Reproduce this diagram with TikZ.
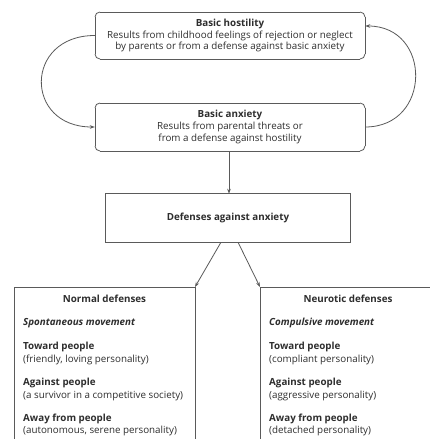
\documentclass[tikz,border=0pt]{standalone}
\usepackage{fontspec}
\setmainfont{Open Sans}
\usetikzlibrary{calc,arrows.meta}
\definecolor{txt}{HTML}{2E2E2E}
\definecolor{ln}{HTML}{5A5A5A}
\tikzset{
  box/.style={inner sep=0pt, text=txt, font=\fontsize{9.8}{11.8}\selectfont, align=center},
  edge/.style={draw=ln, line width=0.8pt},
  lbl/.style={text=txt, font=\fontsize{9.8}{11.8}\selectfont, align=center, inner sep=0pt},
  item/.style={text=txt, font=\fontsize{9.8}{12.6}\selectfont, align=left, inner sep=0pt, anchor=west},
  arr/.style={draw=ln, line width=0.8pt, -{Stealth[length=5pt,width=3.5pt]}}
}
\begin{document}
\begin{tikzpicture}[x=1pt,y=-1pt]
\fill[white] (0,0) rectangle (430,439);
\useasboundingbox (0,0) rectangle (430,439);
% boxes with their texts
\node[box, minimum width=270pt, minimum height=47pt] (host) at (230,35.5) {\textbf{Basic hostility}\\Results from childhood feelings of rejection or neglect\\by parents or from a defense against basic anxiety};
\node[box, minimum width=270pt, minimum height=48pt] (anx) at (230,127) {\textbf{Basic anxiety}\\Results from parental threats or\\from a defense against hostility};
\node[box, minimum width=244pt, minimum height=48pt] (def) at (228,218) {\textbf{Defenses against anxiety}};
% rounded outline of Basic hostility
\draw[edge] (100,12) -- (360,12);
\draw[edge] (365,17) -- (365,54);
\draw[edge] (360,59) -- (100,59);
\draw[edge] (95,54) -- (95,17);
\draw[edge] (95,17) .. controls (95,14.2) and (97.2,12) .. (100,12);
\draw[edge] (360,12) .. controls (362.8,12) and (365,14.2) .. (365,17);
\draw[edge] (365,54) .. controls (365,56.8) and (362.8,59) .. (360,59);
\draw[edge] (100,59) .. controls (97.2,59) and (95,56.8) .. (95,54);
% rounded outline of Basic anxiety
\draw[edge] (100,103) -- (360,103);
\draw[edge] (365,108) -- (365,146);
\draw[edge] (360,151) -- (100,151);
\draw[edge] (95,146) -- (95,108);
\draw[edge] (95,108) .. controls (95,105.2) and (97.2,103) .. (100,103);
\draw[edge] (360,103) .. controls (362.8,103) and (365,105.2) .. (365,108);
\draw[edge] (365,146) .. controls (365,148.8) and (362.8,151) .. (360,151);
\draw[edge] (100,151) .. controls (97.2,151) and (95,148.8) .. (95,146);
% other boxes
\draw[edge] (def.north west) rectangle (def.south east);
\draw[edge] (14,445) -- (14,287) -- (195,287) coordinate (normal) -- (195,445);
\draw[edge] (440,287) -- (260,287) coordinate (neur) -- (260,445);
% normal defenses
\node[lbl] (nh) at (104.5,299) {\textbf{Normal defenses}};
\node[item] (n1) at (23,323) {\textbf{\itshape Spontaneous movement}};
\node[item] (n2) at (23,353.3) {\textbf{Toward people}\\(friendly, loving personality)};
\node[item] (n3) at (23,389.3) {\textbf{Against people}\\(a survivor in a competitive society)};
\node[item] (n4) at (23,425) {\textbf{Away from people}\\(autonomous, serene personality)};
% neurotic defenses
\node[lbl] (rh) at (348,299) {\textbf{Neurotic defenses}};
\node[item] (r1) at (269,323) {\textbf{\itshape Compulsive movement}};
\node[item] (r2) at (269,353.3) {\textbf{Toward people}\\(compliant personality)};
\node[item] (r3) at (269,389.3) {\textbf{Against people}\\(aggressive personality)};
\node[item] (r4) at (269,425) {\textbf{Away from people}\\(detached personality)};
% connectors
\coordinate (vtop) at ($(anx.south)+(-1,0)$);
\coordinate (hin) at ($(host.east)+(0,-9.5)$);
\coordinate (dl) at ($(def.south)+(-7,0)$);
\coordinate (dr) at ($(def.south)+(10,0)$);
\draw[arr] (host.west) .. controls (24,35.5) and (24,127) .. (anx.west);
\draw[arr] (anx.east) .. controls (432,127) and (432,26) .. (hin);
\draw[arr] (vtop) -- (vtop |- def.north);
\draw[arr] (dl) -- (normal);
\draw[arr] (dr) -- (neur);
\end{tikzpicture}
\end{document}
